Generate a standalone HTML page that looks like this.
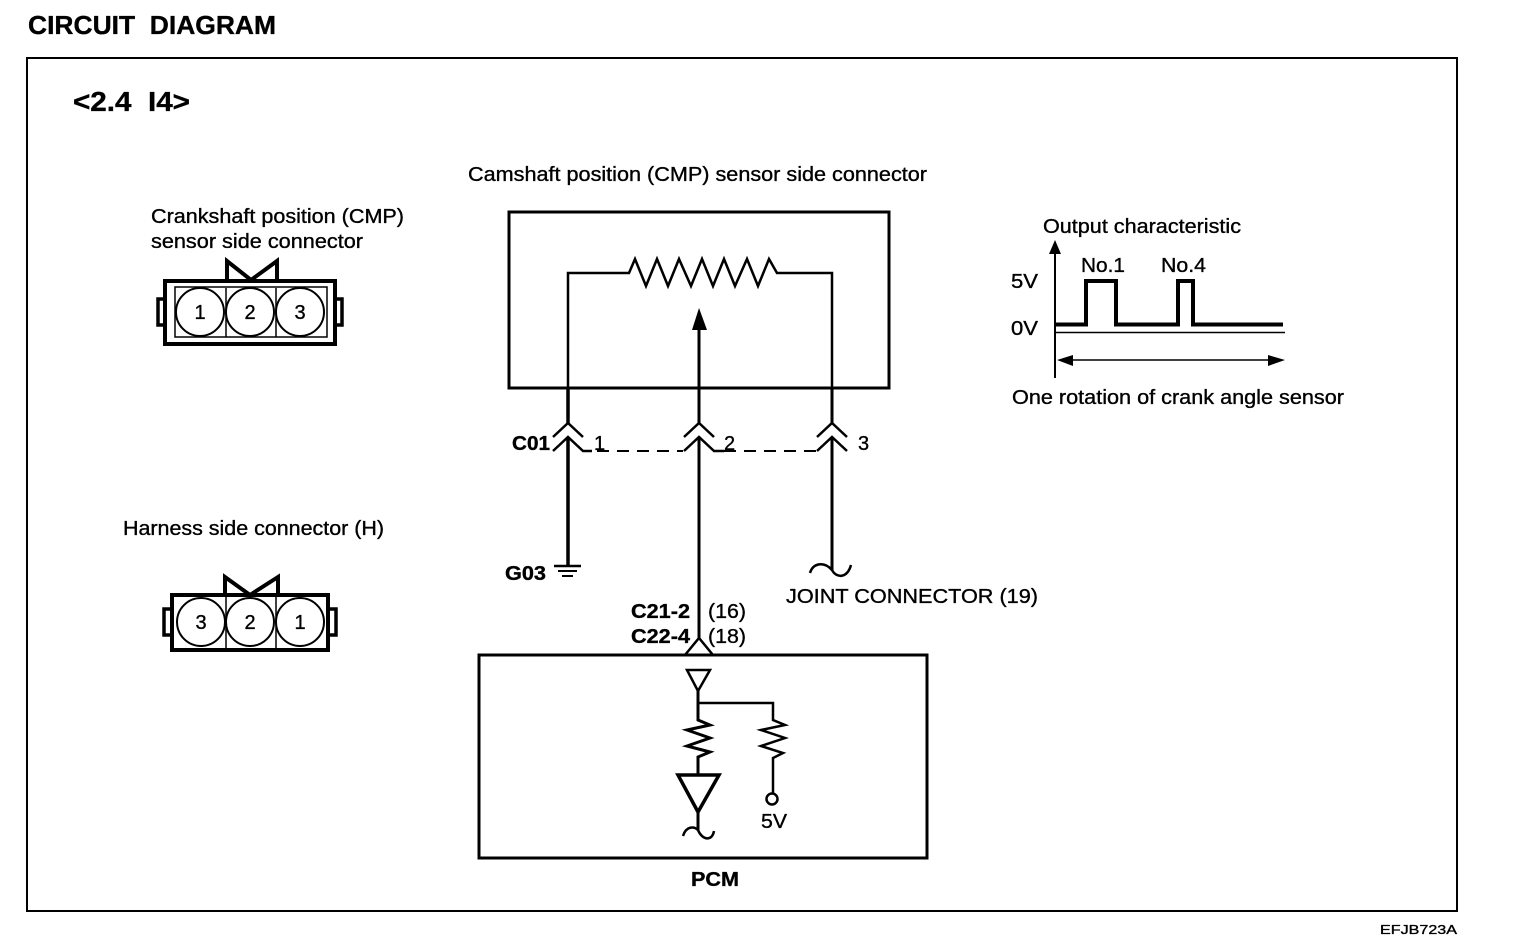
<!DOCTYPE html>
<html>
<head>
<meta charset="utf-8">
<title>Circuit Diagram</title>
<style>
html,body{margin:0;padding:0;background:#fff}
svg{display:block}
text{font-family:"Liberation Sans",sans-serif;fill:#000;stroke:#000;stroke-width:.35px}
.n{font-size:20px}
.b{font-size:20px;font-weight:bold}
.c{font-size:20px}
</style>
</head>
<body>
<svg width="1520" height="940" viewBox="0 0 1520 940" xmlns="http://www.w3.org/2000/svg">
<rect width="1520" height="940" fill="#fff"/>

<text x="28" y="34" font-size="26" font-weight="bold" textLength="248" lengthAdjust="spacingAndGlyphs" xml:space="preserve">CIRCUIT  DIAGRAM</text>
<rect x="27" y="58" width="1430" height="853" fill="none" stroke="#000" stroke-width="2"/>
<text x="73" y="111" font-size="28" font-weight="bold" textLength="117" lengthAdjust="spacingAndGlyphs" xml:space="preserve">&lt;2.4  I4&gt;</text>

<text class="n" x="151" y="223" textLength="253" lengthAdjust="spacingAndGlyphs">Crankshaft position (CMP)</text>
<text class="n" x="151" y="248" textLength="212" lengthAdjust="spacingAndGlyphs">sensor side connector</text>

<g fill="none" stroke="#000">
  <path d="M165 299H158V325H165M335 299H342V325H335" stroke-width="3.5"/>
  <rect x="165" y="281" width="170" height="63" stroke-width="4"/>
  <rect x="175" y="287" width="152" height="50" stroke-width="1.5"/>
  <path d="M226 288V337M276 288V337" stroke-width="1.5"/>
  <path d="M227 281V261L251 280L277 261V281" stroke-width="4"/>
  <circle cx="200" cy="312" r="24" fill="#fff" stroke-width="2"/>
  <circle cx="250" cy="312" r="24" fill="#fff" stroke-width="2"/>
  <circle cx="300" cy="312" r="24" fill="#fff" stroke-width="2"/>
</g>
<text class="c" x="200" y="319" text-anchor="middle">1</text>
<text class="c" x="250" y="319" text-anchor="middle">2</text>
<text class="c" x="300" y="319" text-anchor="middle">3</text>

<text class="n" x="123" y="535" textLength="261" lengthAdjust="spacingAndGlyphs">Harness side connector (H)</text>
<g fill="none" stroke="#000">
  <path d="M172 609H164V635H172M328 609H336V635H328" stroke-width="3.5"/>
  <rect x="172" y="595" width="156" height="55" stroke-width="4"/>
  <path d="M226 596V649M276 596V649" stroke-width="1.5"/>
  <path d="M225 595V577L250 595L278 577V595" stroke-width="4"/>
  <circle cx="201" cy="622" r="24" fill="#fff" stroke-width="2"/>
  <circle cx="250" cy="622" r="24" fill="#fff" stroke-width="2"/>
  <circle cx="300" cy="622" r="24" fill="#fff" stroke-width="2"/>
</g>
<text class="c" x="201" y="629" text-anchor="middle">3</text>
<text class="c" x="250" y="629" text-anchor="middle">2</text>
<text class="c" x="300" y="629" text-anchor="middle">1</text>

<text class="n" x="468" y="181" textLength="459" lengthAdjust="spacingAndGlyphs">Camshaft position (CMP) sensor side connector</text>
<g fill="none" stroke="#000">
  <rect x="509" y="212" width="380" height="176" stroke-width="3"/>
  <path d="M568 388V273H629L635 259L646 286L657 259L668 286L679 259L691 286L702 259L713 286L724 259L735 286L747 259L758 286L769 259L777 273H832V388" stroke-width="2.5"/>
  <path d="M699 388V330" stroke-width="3"/>
  <path d="M568 388V423" stroke-width="3.5"/>
  <path d="M699 388V423M832 388V423" stroke-width="3"/>
  <path d="M553 437L568 423L583 437M684 437L699 423L714 437M817 437L832 423L847 437" stroke-width="2.5"/>
  <path d="M553 451L568 437L583 451H592M684 451L699 437L714 451H724M817 451L832 437L847 451" stroke-width="2.5"/>
  <path d="M568 437V565" stroke-width="3.5"/>
  <path d="M699 437V638M832 437V570" stroke-width="3"/>
  <path d="M597 451H683M724 451H816" stroke-width="2" stroke-dasharray="12 8"/>
  <path d="M554 566H581" stroke-width="2.5"/>
  <path d="M558 571H577" stroke-width="2"/>
  <path d="M562 576H573" stroke-width="2"/>
  <path d="M810 573C813 563 824 561 832 570C836 578 847 579 851 565" stroke-width="2.5"/>
</g>
<path d="M699 308L707 330H692Z" fill="#000"/>

<text class="b" x="512" y="450" textLength="38" lengthAdjust="spacingAndGlyphs">C01</text>
<text class="n" x="594" y="450">1</text>
<text class="n" x="724" y="450">2</text>
<text class="n" x="858" y="450">3</text>
<text class="b" x="505" y="580" textLength="41" lengthAdjust="spacingAndGlyphs">G03</text>
<text class="n" x="786" y="603" textLength="252" lengthAdjust="spacingAndGlyphs">JOINT CONNECTOR (19)</text>
<text class="b" x="631" y="618" textLength="59" lengthAdjust="spacingAndGlyphs">C21-2</text>
<text class="n" x="708" y="618" textLength="38" lengthAdjust="spacingAndGlyphs">(16)</text>
<text class="b" x="631" y="643" textLength="59" lengthAdjust="spacingAndGlyphs">C22-4</text>
<text class="n" x="708" y="643" textLength="38" lengthAdjust="spacingAndGlyphs">(18)</text>

<g fill="none" stroke="#000">
  <rect x="479" y="655" width="448" height="203" stroke-width="3"/>
  <path d="M685 655L699 638L713 655" stroke-width="2.5"/>
  <path d="M687 670H710L698 691Z" stroke-width="2.5"/>
  <path d="M698 691V720L710 725L687 730L710 738L687 746L710 752L698 757V775" stroke-width="3"/>
  <path d="M698 703H773V720L785 725L761 730L785 738L761 746L783 753L773 758V794" stroke-width="2.5"/>
  <circle cx="772" cy="799" r="5.5" stroke-width="2.5"/>
  <path d="M678 775H719L698 812Z" stroke-width="3.5"/>
  <path d="M698 812V830" stroke-width="3"/>
  <path d="M683 836C686 826 694 826 698 830C702 840 712 842 714 831" stroke-width="2.5"/>
</g>
<text class="n" x="761" y="828" textLength="26" lengthAdjust="spacingAndGlyphs">5V</text>
<text class="b" x="691" y="886" textLength="48" lengthAdjust="spacingAndGlyphs">PCM</text>

<text class="n" x="1043" y="233" textLength="198" lengthAdjust="spacingAndGlyphs">Output characteristic</text>
<g fill="none" stroke="#000">
  <path d="M1055 250V378" stroke-width="2"/>
  <path d="M1055 324.5H1086V281H1116V324.5H1178V281H1193V324.5H1283" stroke-width="4"/>
  <path d="M1055 332.5H1285" stroke-width="1.5"/>
  <path d="M1066 360H1274" stroke-width="1.5"/>
</g>
<path d="M1055 240L1061 254H1049Z" fill="#000"/>
<path d="M1057 360L1073 355V366Z" fill="#000"/>
<path d="M1285 360L1268 355V366Z" fill="#000"/>
<text class="n" x="1081" y="272" textLength="44" lengthAdjust="spacingAndGlyphs">No.1</text>
<text class="n" x="1161" y="272" textLength="45" lengthAdjust="spacingAndGlyphs">No.4</text>
<text class="n" x="1011" y="288" textLength="27" lengthAdjust="spacingAndGlyphs">5V</text>
<text class="n" x="1011" y="335" textLength="27" lengthAdjust="spacingAndGlyphs">0V</text>
<text class="n" x="1012" y="404" textLength="332" lengthAdjust="spacingAndGlyphs">One rotation of crank angle sensor</text>

<text x="1380" y="934" font-size="13" textLength="77" lengthAdjust="spacingAndGlyphs">EFJB723A</text>
</svg>
</body>
</html>
